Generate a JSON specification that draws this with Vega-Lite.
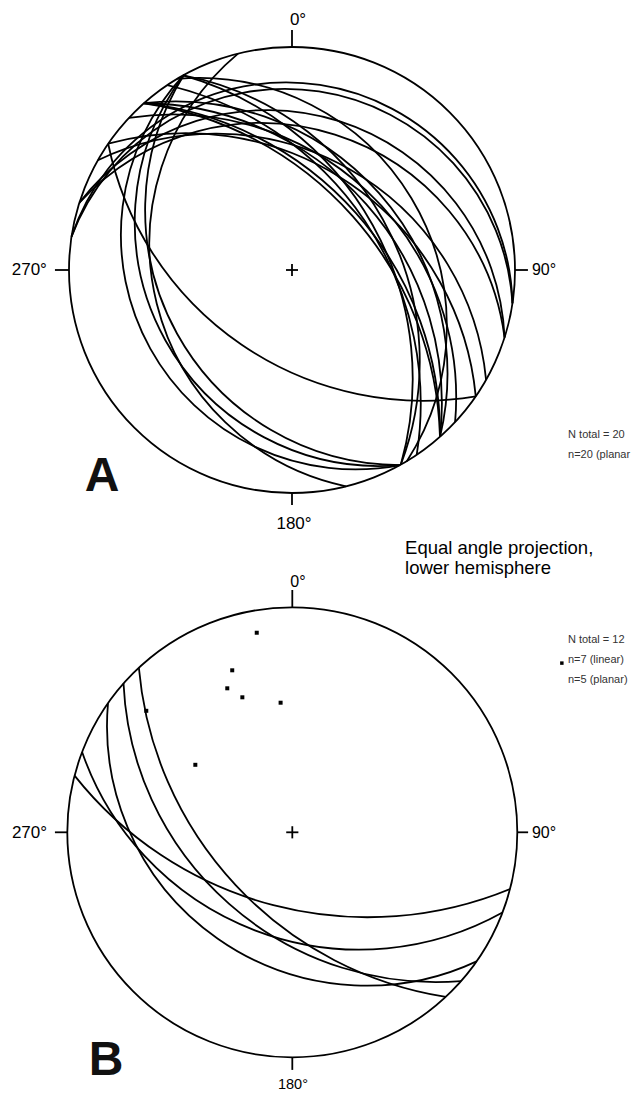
{
  "$schema": "https://vega.github.io/schema/vega-lite/v6.json",
  "padding": 0,
  "spacing": 0,
  "bounds": "flush",
  "background": "white",
  "config": {"view": {"stroke": null}, "font": "Liberation Sans"},
  "resolve": {"scale": {"x": "independent", "y": "independent", "radius": "independent", "theta": "independent"}},
  "vconcat": [
    {
      "width": 631,
      "height": 575,
      "layer": [
        {
          "data": {"values": [
            {"plane": "primitive", "cx": 0, "cy": 0, "r": 1, "t1": 0, "t2": 360},
            {"plane": "214/46", "cx": 0.5865, "cy": 0.8534, "r": 1.4396, "t1": 170.5, "t2": 258.5},
            {"plane": "241/29", "cx": 0.4848, "cy": 0.2687, "r": 1.1434, "t1": 180, "t2": 302},
            {"plane": "241/24", "cx": 0.3894, "cy": 0.2158, "r": 1.0946, "t1": 175, "t2": 307},
            {"plane": "241/18", "cx": 0.2842, "cy": 0.1575, "r": 1.0515, "t1": 169, "t2": 313},
            {"plane": "256/26", "cx": 0.4732, "cy": 0.1180, "r": 1.1126, "t1": 192, "t2": 320},
            {"plane": "009/10", "cx": -0.0264, "cy": -0.1743, "r": 1.0154, "t1": -71.4, "t2": 88.6},
            {"plane": "009/12", "cx": -0.0318, "cy": -0.2102, "r": 1.0223, "t1": -69.4, "t2": 86.6},
            {"plane": "018/20", "cx": -0.1101, "cy": -0.3470, "r": 1.0642, "t1": -52.4, "t2": 87.6},
            {"plane": "018/25", "cx": -0.1410, "cy": -0.4445, "r": 1.1034, "t1": -47.4, "t2": 82.6},
            {"plane": "030/35", "cx": -0.3448, "cy": -0.6095, "r": 1.2208, "t1": -25.5, "t2": 84.5},
            {"plane": "059/26", "cx": -0.4181, "cy": -0.2512, "r": 1.1126, "t1": -5, "t2": 123},
            {"plane": "035/40", "cx": -0.4753, "cy": -0.6915, "r": 1.3054, "t1": -15.5, "t2": 84.5},
            {"plane": "043/38", "cx": -0.5328, "cy": -0.5714, "r": 1.2690, "t1": -9, "t2": 95},
            {"plane": "048/35", "cx": -0.5237, "cy": -0.4649, "r": 1.2208, "t1": -6.6, "t2": 103.4},
            {"plane": "048/42", "cx": -0.6735, "cy": -0.5978, "r": 1.3456, "t1": 0.4, "t2": 96.4},
            {"plane": "048/48", "cx": -0.8307, "cy": -0.7373, "r": 1.4945, "t1": 6.4, "t2": 90.4},
            {"plane": "048/50", "cx": -0.8915, "cy": -0.7912, "r": 1.5557, "t1": 8.4, "t2": 88.4},
            {"plane": "061/45", "cx": -0.8729, "cy": -0.4879, "r": 1.4142, "t1": 15.8, "t2": 105.8},
            {"plane": "061/40", "cx": -0.7325, "cy": -0.4094, "r": 1.3054, "t1": 10.8, "t2": 110.8},
            {"plane": "056/47", "cx": -0.8890, "cy": -0.5997, "r": 1.4663, "t1": 13, "t2": 99}
          ]},
          "mark": {"type": "arc", "filled": false, "color": "black", "strokeWidth": 1.8},
          "encoding": {
            "x": {"field": "cx", "type": "quantitative", "scale": {"domain": [-1.3094, 1.5202], "nice": false, "zero": false}, "axis": null},
            "y": {"field": "cy", "type": "quantitative", "scale": {"domain": [-1.3677, 1.2108], "nice": false, "zero": false}, "axis": null},
            "radius": {"field": "r", "type": "quantitative", "scale": {"type": "linear", "domain": [0, 1], "range": [0, 223], "nice": false}},
            "radius2": {"field": "r"},
            "theta": {"field": "t1", "type": "quantitative", "stack": null, "scale": {"type": "linear", "domain": [0, 360], "range": [0, 6.283185307179586], "nice": false}},
            "theta2": {"field": "t2"}
          }
        },
        {
          "data": {"values": [
            {"x": 0, "y": 1, "x2": 0, "y2": 1.076},
            {"x": 1, "y": 0, "x2": 1.058, "y2": 0},
            {"x": -1, "y": 0, "x2": -1.063, "y2": 0},
            {"x": 0, "y": -1, "x2": 0, "y2": -1.054},
            {"x": -0.027, "y": 0, "x2": 0.027, "y2": 0},
            {"x": 0, "y": -0.027, "x2": 0, "y2": 0.027}
          ]},
          "mark": {"type": "rule", "color": "black", "strokeWidth": 1.8},
          "encoding": {
            "x": {"field": "x", "type": "quantitative", "scale": {"domain": [-1.3094, 1.5202], "nice": false, "zero": false}, "axis": null},
            "y": {"field": "y", "type": "quantitative", "scale": {"domain": [-1.3677, 1.2108], "nice": false, "zero": false}, "axis": null},
            "x2": {"field": "x2"},
            "y2": {"field": "y2"}
          }
        },
        {
          "data": {"values": [
            {"x": 0.027, "y": 1.121, "label": "0°"},
            {"x": 0.009, "y": -1.139, "label": "180°"}
          ]},
          "mark": {"type": "text", "align": "center", "baseline": "middle", "fontSize": 17, "color": "black"},
          "encoding": {
            "x": {"field": "x", "type": "quantitative", "scale": {"domain": [-1.3094, 1.5202], "nice": false, "zero": false}, "axis": null},
            "y": {"field": "y", "type": "quantitative", "scale": {"domain": [-1.3677, 1.2108], "nice": false, "zero": false}, "axis": null},
            "text": {"field": "label"}
          }
        },
        {
          "data": {"values": [
            {"x": 1.076, "y": 0, "label": "90°"}
          ]},
          "mark": {"type": "text", "align": "left", "baseline": "middle", "fontSize": 16, "color": "black"},
          "encoding": {
            "x": {"field": "x", "type": "quantitative", "scale": {"domain": [-1.3094, 1.5202], "nice": false, "zero": false}, "axis": null},
            "y": {"field": "y", "type": "quantitative", "scale": {"domain": [-1.3677, 1.2108], "nice": false, "zero": false}, "axis": null},
            "text": {"field": "label"}
          }
        },
        {
          "data": {"values": [
            {"x": -1.099, "y": 0, "label": "270°"}
          ]},
          "mark": {"type": "text", "align": "right", "baseline": "middle", "fontSize": 17, "color": "black"},
          "encoding": {
            "x": {"field": "x", "type": "quantitative", "scale": {"domain": [-1.3094, 1.5202], "nice": false, "zero": false}, "axis": null},
            "y": {"field": "y", "type": "quantitative", "scale": {"domain": [-1.3677, 1.2108], "nice": false, "zero": false}, "axis": null},
            "text": {"field": "label"}
          }
        },
        {
          "data": {"values": [
            {"x": -0.852, "y": -0.991, "label": "A"}
          ]},
          "mark": {"type": "text", "align": "center", "baseline": "alphabetic", "fontSize": 48, "fontWeight": "bold", "color": "#111111"},
          "encoding": {
            "x": {"field": "x", "type": "quantitative", "scale": {"domain": [-1.3094, 1.5202], "nice": false, "zero": false}, "axis": null},
            "y": {"field": "y", "type": "quantitative", "scale": {"domain": [-1.3677, 1.2108], "nice": false, "zero": false}, "axis": null},
            "text": {"field": "label"}
          }
        },
        {
          "data": {"values": [
            {"x": 1.238, "y": -0.740, "label": "N total = 20"},
            {"x": 1.238, "y": -0.830, "label": "n=20 (planar"}
          ]},
          "mark": {"type": "text", "align": "left", "baseline": "middle", "fontSize": 11, "color": "#333333"},
          "encoding": {
            "x": {"field": "x", "type": "quantitative", "scale": {"domain": [-1.3094, 1.5202], "nice": false, "zero": false}, "axis": null},
            "y": {"field": "y", "type": "quantitative", "scale": {"domain": [-1.3677, 1.2108], "nice": false, "zero": false}, "axis": null},
            "text": {"field": "label"}
          }
        },
        {
          "data": {"values": [
            {"x": 0.507, "y": -1.247, "label": "Equal angle projection,"},
            {"x": 0.507, "y": -1.336, "label": "lower hemisphere"}
          ]},
          "mark": {"type": "text", "align": "left", "baseline": "middle", "fontSize": 18.5, "color": "black"},
          "encoding": {
            "x": {"field": "x", "type": "quantitative", "scale": {"domain": [-1.3094, 1.5202], "nice": false, "zero": false}, "axis": null},
            "y": {"field": "y", "type": "quantitative", "scale": {"domain": [-1.3677, 1.2108], "nice": false, "zero": false}, "axis": null},
            "text": {"field": "label"}
          }
        }
      ]
    },
    {
      "width": 631,
      "height": 521,
      "layer": [
        {
          "data": {"values": [
            {"plane": "primitive", "cx": 0, "cy": 0, "r": 1, "t1": 0, "t2": 360},
            {"plane": "195/53", "cx": 0.3345, "cy": 1.2842, "r": 1.6616, "t1": 157.6, "t2": 231.6},
            {"plane": "201/40", "cx": 0.2993, "cy": 0.7839, "r": 1.3054, "t1": 150.9, "t2": 250.9},
            {"plane": "215/30", "cx": 0.3312, "cy": 0.4730, "r": 1.1547, "t1": 155, "t2": 275},
            {"plane": "221/44", "cx": 0.6386, "cy": 0.7244, "r": 1.3902, "t1": 175.4, "t2": 267.4},
            {"plane": "227/52", "cx": 0.9361, "cy": 0.8729, "r": 1.6243, "t1": 189, "t2": 265}
          ]},
          "mark": {"type": "arc", "filled": false, "color": "black", "strokeWidth": 1.8},
          "encoding": {
            "x": {"field": "cx", "type": "quantitative", "scale": {"domain": [-1.2991, 1.5053], "nice": false, "zero": false}, "axis": null},
            "y": {"field": "cy", "type": "quantitative", "scale": {"domain": [-1.172, 1.1436], "nice": false, "zero": false}, "axis": null},
            "radius": {"field": "r", "type": "quantitative", "scale": {"type": "linear", "domain": [0, 1], "range": [0, 225], "nice": false}},
            "radius2": {"field": "r"},
            "theta": {"field": "t1", "type": "quantitative", "stack": null, "scale": {"type": "linear", "domain": [0, 360], "range": [0, 6.283185307179586], "nice": false}},
            "theta2": {"field": "t2"}
          }
        },
        {
          "data": {"values": [
            {"x": 0, "y": 1, "x2": 0, "y2": 1.077},
            {"x": 1, "y": 0, "x2": 1.048, "y2": 0},
            {"x": -1, "y": 0, "x2": -1.055, "y2": 0},
            {"x": 0, "y": -1, "x2": 0, "y2": -1.056},
            {"x": -0.027, "y": 0, "x2": 0.027, "y2": 0},
            {"x": 0, "y": -0.027, "x2": 0, "y2": 0.027}
          ]},
          "mark": {"type": "rule", "color": "black", "strokeWidth": 1.8},
          "encoding": {
            "x": {"field": "x", "type": "quantitative", "scale": {"domain": [-1.2991, 1.5053], "nice": false, "zero": false}, "axis": null},
            "y": {"field": "y", "type": "quantitative", "scale": {"domain": [-1.172, 1.1436], "nice": false, "zero": false}, "axis": null},
            "x2": {"field": "x2"},
            "y2": {"field": "y2"}
          }
        },
        {
          "data": {"values": [
            {"x": -0.158, "y": 0.887},
            {"x": -0.267, "y": 0.720},
            {"x": -0.289, "y": 0.640},
            {"x": -0.222, "y": 0.600},
            {"x": -0.052, "y": 0.576},
            {"x": -0.649, "y": 0.540},
            {"x": -0.431, "y": 0.300}
          ]},
          "mark": {"type": "square", "filled": true, "color": "black", "size": 16, "opacity": 1},
          "encoding": {
            "x": {"field": "x", "type": "quantitative", "scale": {"domain": [-1.2991, 1.5053], "nice": false, "zero": false}, "axis": null},
            "y": {"field": "y", "type": "quantitative", "scale": {"domain": [-1.172, 1.1436], "nice": false, "zero": false}, "axis": null}
          }
        },
        {
          "data": {"values": [
            {"x": 1.198, "y": 0.752}
          ]},
          "mark": {"type": "square", "filled": true, "color": "black", "size": 12, "opacity": 1},
          "encoding": {
            "x": {"field": "x", "type": "quantitative", "scale": {"domain": [-1.2991, 1.5053], "nice": false, "zero": false}, "axis": null},
            "y": {"field": "y", "type": "quantitative", "scale": {"domain": [-1.172, 1.1436], "nice": false, "zero": false}, "axis": null}
          }
        },
        {
          "data": {"values": [
            {"x": 0.025, "y": 1.112, "label": "0°"}
          ]},
          "mark": {"type": "text", "align": "center", "baseline": "middle", "fontSize": 16, "color": "black"},
          "encoding": {
            "x": {"field": "x", "type": "quantitative", "scale": {"domain": [-1.2991, 1.5053], "nice": false, "zero": false}, "axis": null},
            "y": {"field": "y", "type": "quantitative", "scale": {"domain": [-1.172, 1.1436], "nice": false, "zero": false}, "axis": null},
            "text": {"field": "label"}
          }
        },
        {
          "data": {"values": [
            {"x": 0.003, "y": -1.123, "label": "180°"}
          ]},
          "mark": {"type": "text", "align": "center", "baseline": "middle", "fontSize": 14.5, "color": "black"},
          "encoding": {
            "x": {"field": "x", "type": "quantitative", "scale": {"domain": [-1.2991, 1.5053], "nice": false, "zero": false}, "axis": null},
            "y": {"field": "y", "type": "quantitative", "scale": {"domain": [-1.172, 1.1436], "nice": false, "zero": false}, "axis": null},
            "text": {"field": "label"}
          }
        },
        {
          "data": {"values": [
            {"x": 1.065, "y": -0.003, "label": "90°"}
          ]},
          "mark": {"type": "text", "align": "left", "baseline": "middle", "fontSize": 16, "color": "black"},
          "encoding": {
            "x": {"field": "x", "type": "quantitative", "scale": {"domain": [-1.2991, 1.5053], "nice": false, "zero": false}, "axis": null},
            "y": {"field": "y", "type": "quantitative", "scale": {"domain": [-1.172, 1.1436], "nice": false, "zero": false}, "axis": null},
            "text": {"field": "label"}
          }
        },
        {
          "data": {"values": [
            {"x": -1.090, "y": -0.003, "label": "270°"}
          ]},
          "mark": {"type": "text", "align": "right", "baseline": "middle", "fontSize": 17, "color": "black"},
          "encoding": {
            "x": {"field": "x", "type": "quantitative", "scale": {"domain": [-1.2991, 1.5053], "nice": false, "zero": false}, "axis": null},
            "y": {"field": "y", "type": "quantitative", "scale": {"domain": [-1.172, 1.1436], "nice": false, "zero": false}, "axis": null},
            "text": {"field": "label"}
          }
        },
        {
          "data": {"values": [
            {"x": -0.828, "y": -1.078, "label": "B"}
          ]},
          "mark": {"type": "text", "align": "center", "baseline": "alphabetic", "fontSize": 48, "fontWeight": "bold", "color": "#111111"},
          "encoding": {
            "x": {"field": "x", "type": "quantitative", "scale": {"domain": [-1.2991, 1.5053], "nice": false, "zero": false}, "axis": null},
            "y": {"field": "y", "type": "quantitative", "scale": {"domain": [-1.172, 1.1436], "nice": false, "zero": false}, "axis": null},
            "text": {"field": "label"}
          }
        },
        {
          "data": {"values": [
            {"x": 1.225, "y": 0.855, "label": "N total = 12"},
            {"x": 1.225, "y": 0.766, "label": "n=7 (linear)"},
            {"x": 1.225, "y": 0.677, "label": "n=5 (planar)"}
          ]},
          "mark": {"type": "text", "align": "left", "baseline": "middle", "fontSize": 11, "color": "#333333"},
          "encoding": {
            "x": {"field": "x", "type": "quantitative", "scale": {"domain": [-1.2991, 1.5053], "nice": false, "zero": false}, "axis": null},
            "y": {"field": "y", "type": "quantitative", "scale": {"domain": [-1.172, 1.1436], "nice": false, "zero": false}, "axis": null},
            "text": {"field": "label"}
          }
        }
      ]
    }
  ]
}
